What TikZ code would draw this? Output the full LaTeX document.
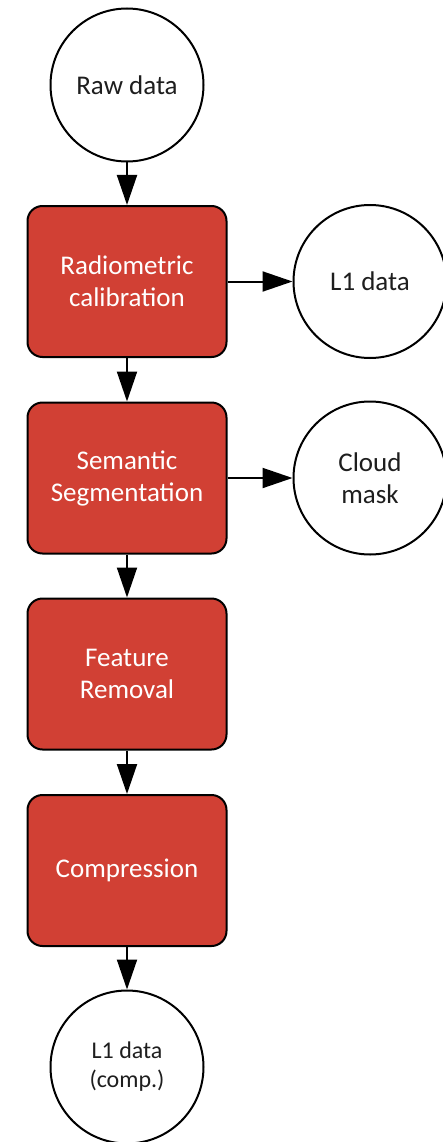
\documentclass[tikz,border=0pt]{standalone}
\usepackage{fontspec}
\setmainfont{Carlito}
\usetikzlibrary{arrows.meta}
\definecolor{procred}{RGB}{209,64,52}
\definecolor{txtgray}{RGB}{30,30,30}
\begin{document}
\begin{tikzpicture}[x=1pt,y=-1pt,
  datacirc/.style={circle, draw=black, line width=2pt, fill=white,
    minimum size=153pt, inner sep=0pt, align=center, text=txtgray,
    font=\fontsize{27}{32}\selectfont},
  procbox/.style={rectangle, rounded corners=15pt, draw=black, line width=2pt,
    fill=procred, minimum width=199pt, minimum height=151pt, inner sep=0pt,
    align=center, text=white, font=\fontsize{27}{32}\selectfont},
  flow/.style={-{Triangle[length=30pt,width=20pt]}, line width=2pt}]
  \useasboundingbox (0,0) rectangle (442,1142);
  \fill[white] (0,0) rectangle (442,1142);

  % input and processing chain
  \node[datacirc] (raw) at (127,85) {Raw data};
  \node[procbox] (cal) at (127,281.5) {Radiometric\\calibration};
  \node[procbox] (seg) at (127,478) {Semantic\\Segmentation};
  \node[procbox] (feat) at (127,674) {Feature\\Removal};
  \node[procbox] (comp) at (127,870.5) {Compression};
  \node[datacirc, font=\fontsize{24}{29}\selectfont] (out) at (127,1067) {L1 data\\(comp.)};

  % side products
  \node[datacirc] (l1) at (370,281.5) {L1 data};
  \node[datacirc] (mask) at (370,478) {Cloud\\mask};

  % connectors
  \draw[flow] (raw) -- (cal);
  \draw[flow] (cal) -- (seg);
  \draw[flow] (seg) -- (feat);
  \draw[flow] (feat) -- (comp);
  \draw[flow] (comp) -- (out);
  \draw[flow] (cal) -- (l1);
  \draw[flow] (seg) -- (mask);
\end{tikzpicture}
\end{document}
